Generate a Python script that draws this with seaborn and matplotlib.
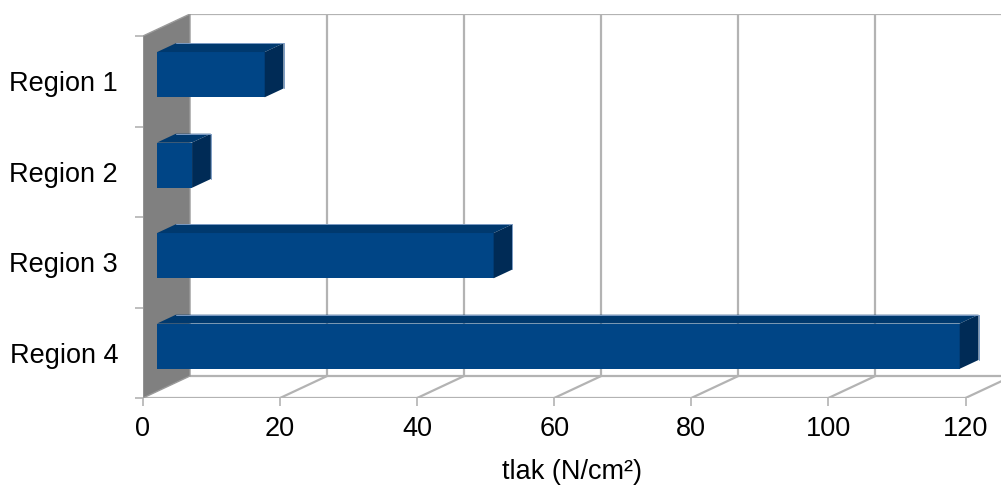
import matplotlib
matplotlib.use("Agg")
import matplotlib.pyplot as plt
from matplotlib.patches import Polygon
import seaborn as sns
import numpy as np

# Data
regions = ["Region 1", "Region 2", "Region 3", "Region 4"]
pressure = [15.7, 5.1, 49.1, 117.1]
x_ticks = [0, 20, 40, 60, 80, 100, 120]
x_label = "tlak (N/cm²)"

sns.set_style("white")
plt.rcParams["font.family"] = ["Liberation Sans", "DejaVu Sans"]
plt.rcParams["text.color"] = "black"
plt.rcParams["axes.labelcolor"] = "black"
plt.rcParams["xtick.labelcolor"] = "black"
plt.rcParams["ytick.labelcolor"] = "black"

FRONT = "#004586"
TOP = "#00396e"
SIDE = "#002b56"
GRID = "#b3b3b3"
WALL = "#808080"
FS = 19.5

fig = plt.figure(figsize=(10.01, 4.93), dpi=100)
W, H = 1001, 493
# pixel geometry of the front plane
x0_px, x120_px, floor_px, front_top_px, back_top_px = 143, 965.5, 398, 36, 14
px_per_unit = (x120_px - x0_px) / 120.0
px_per_cat = (floor_px - front_top_px) / 4.0
ax = fig.add_axes([x0_px / W, (H - floor_px) / H, (W - x0_px) / W, (floor_px - back_top_px) / H])

# oblique depth of the box, in data units
DX = 47 / px_per_unit
DY = 22 / px_per_cat
xmax = (W - x0_px) / px_per_unit
ylo = 3.5 - (floor_px - back_top_px) / px_per_cat

sns.barplot(x=pressure, y=regions, orient="h", color=FRONT, saturation=1,
            width=0.5, ax=ax, zorder=3, linewidth=0)

ax.set_xlim(0, xmax)
ax.set_ylim(3.5, ylo)

# walls and floor
ax.add_patch(Polygon([(0, -0.5), (DX, -0.5 - DY), (DX, 3.5 - DY), (0, 3.5)],
                     closed=True, facecolor=WALL, edgecolor="#9a9a9a", lw=1, zorder=1))
lkw = dict(color=GRID, lw=1.6, zorder=0.5, solid_capstyle="butt")
for v in x_ticks[1:]:
    ax.plot([v + DX, v + DX], [3.5 - DY, -0.5 - DY], **lkw)
    ax.plot([v, v + DX], [3.5, 3.5 - DY], **lkw)
ax.plot([DX, xmax], [-0.5 - DY, -0.5 - DY], **lkw)
ax.plot([DX, xmax], [3.5 - DY, 3.5 - DY], **lkw)
ax.plot([0, x_ticks[-1]], [3.5, 3.5], **lkw)

# 3D faces of the bars, derived from the bar rectangles
z0, depth = 0.3, 0.4
for p in list(ax.patches):
    if not isinstance(p, matplotlib.patches.Rectangle):
        continue
    p.set_x(p.get_x() + z0 * DX)
    p.set_y(p.get_y() - z0 * DY)
    xa, xb = p.get_x(), p.get_x() + p.get_width()
    yt, yb = p.get_y(), p.get_y() + p.get_height()
    ddx, ddy = depth * DX, depth * DY
    ax.add_patch(Polygon([(xa, yt), (xb, yt), (xb + ddx, yt - ddy), (xa + ddx, yt - ddy)],
                         closed=True, facecolor=TOP, edgecolor="none", zorder=3))
    ax.add_patch(Polygon([(xb, yt), (xb, yb), (xb + ddx, yb - ddy), (xb + ddx, yt - ddy)],
                         closed=True, facecolor=SIDE, edgecolor="none", zorder=3))
    ax.plot([xa + ddx, xb + ddx, xb + ddx], [yt - ddy, yt - ddy, yb - ddy],
            color="#7d9cc4", lw=0.7, zorder=3.5)

for s in ax.spines.values():
    s.set_visible(False)

ax.set_xticks(x_ticks)
ax.set_xticklabels([str(v) for v in x_ticks])
ax.set_yticks(range(len(regions)))
ax.set_yticklabels(regions)
ax.set_yticks(np.arange(-0.5, 4.0, 1.0), minor=True)
ax.tick_params(axis="x", which="major", direction="out", length=6, width=1.2,
               color=GRID, labelsize=FS, pad=7, bottom=True)
ax.tick_params(axis="y", which="major", length=0, labelsize=FS, pad=18, left=True)
ax.tick_params(axis="y", which="minor", direction="out", length=6, width=1.2,
               color=GRID, left=True)
ax.set_xlabel(x_label, fontsize=FS, labelpad=12)
ax.set_ylabel("")

fig.savefig("out.png", dpi=100)
